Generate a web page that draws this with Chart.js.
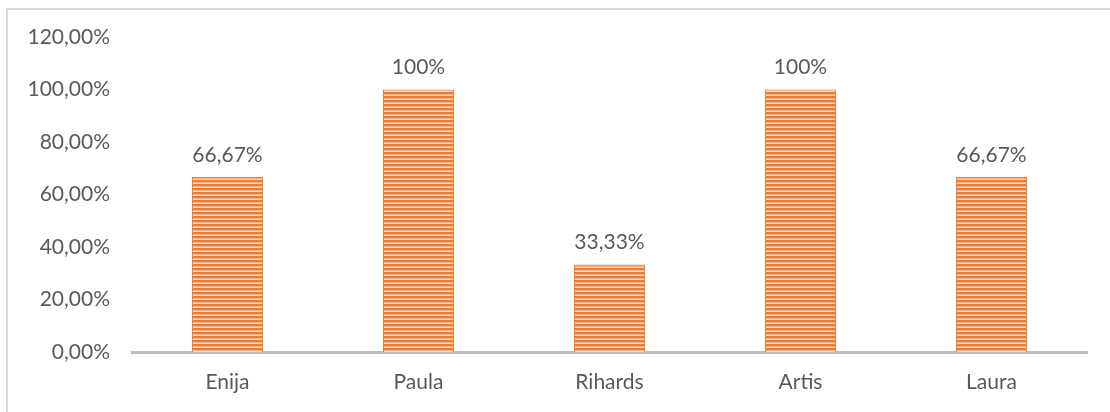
<!DOCTYPE html>
<html>
<head>
<meta charset="utf-8">
<script src="https://cdn.jsdelivr.net/npm/chart.js@4"></script>
<style>
    html, body { margin: 0; padding: 0; background: #fff; }
    #wrap { position: relative; width: 1110px; height: 412px; overflow: hidden; }
    #frame { position: absolute; left: 6px; top: 8px; width: 1120px; height: 420px;
             border-left: 2px solid #d9d9d9; border-top: 2px solid #d9d9d9; }
    canvas { position: absolute; left: 0; top: 0; }
</style>
</head>
<body>
<div id="wrap">
    <div id="frame"></div>
    <canvas id="chart" width="1110" height="412"></canvas>
</div>
<script>
// chart data
const names = ['Enija', 'Paula', 'Rihards', 'Artis', 'Laura'];
const scores = [66.67, 100, 33.33, 100, 66.67];
const scoreLabels = ['66,67%', '100%', '33,33%', '100%', '66,67%'];

const textColor = '#595959';
const fontFamily = "Lato, sans-serif";

// striped orange fill like the original
function makeStripes() {
    const c = document.createElement('canvas');
    c.width = 4;
    c.height = 4;
    const g = c.getContext('2d');
    g.fillStyle = '#ee7d31'; g.fillRect(0, 0, 4, 2);
    g.fillStyle = '#f5b184'; g.fillRect(0, 2, 4, 1);
    g.fillStyle = '#fbdcc6'; g.fillRect(0, 3, 4, 1);
    return g.createPattern(c, 'repeat');
}

const ctx = document.getElementById('chart').getContext('2d');

// draw the value labels above each bar
const valueLabels = {
    id: 'valueLabels',
    afterDatasetsDraw(chart) {
        const c = chart.ctx;
        const meta = chart.getDatasetMeta(0);
        c.save();
        c.font = '21px ' + fontFamily;
        c.fillStyle = textColor;
        c.textAlign = 'center';
        c.textBaseline = 'middle';
        meta.data.forEach((bar, i) => {
            c.fillText(scoreLabels[i], bar.x, bar.y - 22);
        });
        c.restore();
    }
};

new Chart(ctx, {
    type: 'bar',
    data: {
        labels: names,
        datasets: [{
            data: scores,
            backgroundColor: makeStripes(),
            borderColor: '#ee7d31',
            borderWidth: { left: 1, right: 1, top: 1, bottom: 0 },
            borderSkipped: false,
            categoryPercentage: 1,
            barPercentage: 0.372
        }]
    },
    options: {
        responsive: false,
        animation: false,
        layout: { padding: { top: 37, right: 23, left: 0, bottom: 0 } },
        plugins: {
            legend: { display: false },
            tooltip: { enabled: false }
        },
        scales: {
            x: {
                grid: { display: false, drawTicks: false },
                border: { display: true, color: '#bfbfbf', width: 3 },
                ticks: { color: textColor, font: { family: fontFamily, size: 21 }, padding: 18 },
                afterFit: function(scale) { scale.height = 60; }
            },
            y: {
                min: 0,
                max: 120,
                grid: { display: false, drawTicks: false },
                border: { display: false },
                ticks: {
                    stepSize: 20,
                    color: textColor,
                    padding: 22,
                    font: { family: fontFamily, size: 21 },
                    callback: function(value) {
                        return value.toFixed(2).replace('.', ',') + '%';
                    }
                },
                afterFit: function(scale) { scale.width = 132; }
            }
        }
    },
    plugins: [valueLabels]
});
</script>
</body>
</html>
